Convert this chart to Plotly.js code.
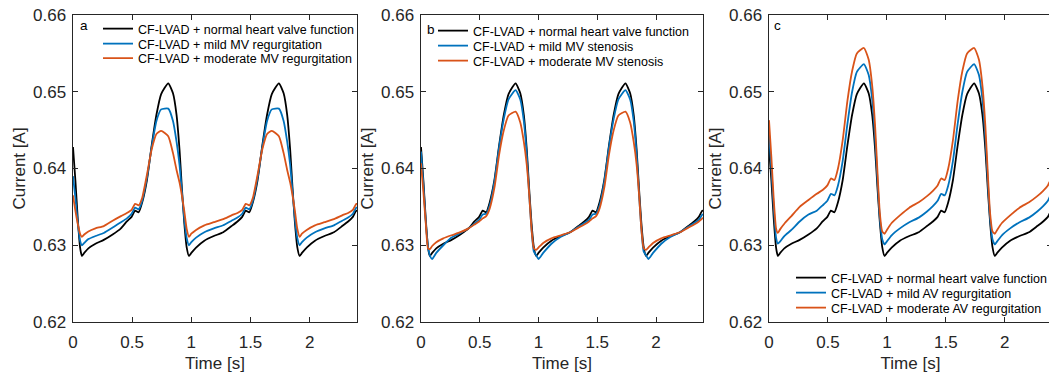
<!DOCTYPE html>
<html>
<head>
<meta charset="utf-8">
<script src="https://cdn.plot.ly/plotly-3.0.1.min.js"></script>
<style>
html, body { margin: 0; padding: 0; overflow: hidden; background: #fff; }
#chart { width: 1056px; height: 377px; }
</style>
</head>
<body>
<div id="chart"></div>
<script>
// ---------------- DATA ----------------
const time = [
  0, 0.02, 0.04, 0.06, 0.075, 0.095, 0.13, 0.19, 0.26, 0.335, 0.405, 0.455,
  0.495, 0.525, 0.555, 0.585, 0.625, 0.665, 0.705, 0.745, 0.805, 0.845, 0.875, 0.9, 0.92, 0.94, 0.96,
  0.98, 1.0, 1.04, 1.11, 1.19, 1.27, 1.34, 1.39, 1.43, 1.46, 1.49, 1.52, 1.56, 1.6, 1.64, 1.68, 1.74, 1.78, 1.81, 1.835, 1.855, 1.875, 1.895,
  1.915, 1.935, 1.975, 2.045, 2.125, 2.205, 2.275, 2.325, 2.365, 2.395, 2.425
];

// normal heart valve function (same in all panels)
const normalValve = [
  0.6428, 0.6385, 0.6335, 0.6297, 0.6286, 0.6290, 0.6296, 0.6302, 0.6307, 0.6314, 0.6322, 0.6331,
  0.6337, 0.6345, 0.6343, 0.6356, 0.6385, 0.6430, 0.6470, 0.6497, 0.6511, 0.6498, 0.6470, 0.6425, 0.6375, 0.6330, 0.6298,
  0.6286, 0.6290, 0.6297, 0.6306, 0.6312, 0.6317, 0.6325, 0.6331, 0.6337, 0.6345, 0.6343, 0.6356, 0.6385, 0.6430, 0.6470, 0.6497, 0.6511, 0.6498, 0.6470, 0.6425, 0.6375, 0.6330, 0.6298,
  0.6286, 0.6290, 0.6297, 0.6306, 0.6312, 0.6317, 0.6325, 0.6331, 0.6337, 0.6345, 0.6343
];

// panel a
const mildMVRegurg = [
  0.6390, 0.6362, 0.6330, 0.6306, 0.6300, 0.6303, 0.6308, 0.6312, 0.6316, 0.6323, 0.6330, 0.6335,
  0.6341, 0.6349, 0.6347, 0.6358, 0.6388, 0.6428, 0.6462, 0.6477, 0.6478, 0.6462, 0.6435, 0.6405, 0.6370, 0.6335, 0.6310,
  0.6300, 0.6304, 0.6310, 0.6317, 0.6322, 0.6326, 0.6332, 0.6336, 0.6341, 0.6349, 0.6347, 0.6358, 0.6388, 0.6428, 0.6462, 0.6477, 0.6478, 0.6462, 0.6435, 0.6405, 0.6370, 0.6335, 0.6310,
  0.6300, 0.6304, 0.6310, 0.6317, 0.6322, 0.6326, 0.6332, 0.6336, 0.6341, 0.6349, 0.6347
];
const moderateMVRegurg = [
  0.6365, 0.6345, 0.6328, 0.6315, 0.6311, 0.6314, 0.6318, 0.6322, 0.6325, 0.6332, 0.6338, 0.6342,
  0.6346, 0.6354, 0.6352, 0.6362, 0.6392, 0.6425, 0.6445, 0.6449, 0.6442, 0.6420, 0.6398, 0.6382, 0.6365, 0.6345, 0.6322,
  0.6311, 0.6315, 0.6320, 0.6326, 0.6330, 0.6334, 0.6339, 0.6342, 0.6346, 0.6354, 0.6352, 0.6362, 0.6392, 0.6425, 0.6445, 0.6449, 0.6442, 0.6420, 0.6398, 0.6382, 0.6365, 0.6345, 0.6322,
  0.6311, 0.6315, 0.6320, 0.6326, 0.6330, 0.6334, 0.6339, 0.6342, 0.6346, 0.6354, 0.6352
];

// panel b
const mildMVSten = [
  0.6422, 0.6380, 0.6332, 0.6298, 0.6287, 0.6282, 0.6290, 0.6300, 0.6310, 0.6316, 0.6322, 0.6328,
  0.6333, 0.6340, 0.6341, 0.6352, 0.6383, 0.6428, 0.6465, 0.6490, 0.6502, 0.6490, 0.6462, 0.6418, 0.6368, 0.6322, 0.6292,
  0.6287, 0.6282, 0.6290, 0.6302, 0.6311, 0.6317, 0.6324, 0.6329, 0.6333, 0.6340, 0.6341, 0.6352, 0.6383, 0.6428, 0.6465, 0.6490, 0.6502, 0.6490, 0.6462, 0.6418, 0.6368, 0.6322, 0.6292,
  0.6287, 0.6282, 0.6290, 0.6302, 0.6311, 0.6317, 0.6324, 0.6329, 0.6333, 0.6340, 0.6341
];
const moderateMVSten = [
  0.6407, 0.6370, 0.6330, 0.6296, 0.6295, 0.6299, 0.6304, 0.6309, 0.6313, 0.6317, 0.6322, 0.6327,
  0.6331, 0.6335, 0.6338, 0.6348, 0.6375, 0.6418, 0.6450, 0.6469, 0.6474, 0.6460, 0.6435, 0.6405, 0.6368, 0.6322, 0.6296,
  0.6294, 0.6297, 0.6303, 0.6309, 0.6313, 0.6317, 0.6323, 0.6327, 0.6331, 0.6335, 0.6338, 0.6348, 0.6375, 0.6418, 0.6450, 0.6469, 0.6474, 0.6460, 0.6435, 0.6405, 0.6368, 0.6322, 0.6296,
  0.6294, 0.6297, 0.6303, 0.6309, 0.6313, 0.6317, 0.6323, 0.6327, 0.6331, 0.6335, 0.6338
];

// panel c
const mildAVRegurg = [
  0.6446, 0.6400, 0.6350, 0.6310, 0.6302, 0.6305, 0.6312, 0.6320, 0.6331, 0.6340, 0.6345, 0.6352,
  0.6358, 0.6367, 0.6365, 0.6378, 0.6410, 0.6458, 0.6500, 0.6526, 0.6536, 0.6522, 0.6490, 0.6440, 0.6385, 0.6335, 0.6308,
  0.6301, 0.6305, 0.6313, 0.6322, 0.6330, 0.6336, 0.6344, 0.6351, 0.6358, 0.6367, 0.6365, 0.6378, 0.6410, 0.6458, 0.6500, 0.6526, 0.6536, 0.6522, 0.6490, 0.6440, 0.6385, 0.6335, 0.6308,
  0.6301, 0.6305, 0.6313, 0.6322, 0.6330, 0.6336, 0.6344, 0.6351, 0.6358, 0.6367, 0.6365
];
const moderateAVRegurg = [
  0.6463, 0.6415, 0.6360, 0.6322, 0.6316, 0.6321, 0.6328, 0.6338, 0.6350, 0.6359, 0.6367, 0.6372,
  0.6378, 0.6387, 0.6385, 0.6400, 0.6437, 0.6488, 0.6527, 0.6550, 0.6557, 0.6542, 0.6508, 0.6455, 0.6395, 0.6342, 0.6318,
  0.6315, 0.6320, 0.6329, 0.6339, 0.6349, 0.6356, 0.6364, 0.6371, 0.6378, 0.6387, 0.6385, 0.6400, 0.6437, 0.6488, 0.6527, 0.6550, 0.6557, 0.6542, 0.6508, 0.6455, 0.6395, 0.6342, 0.6318,
  0.6315, 0.6320, 0.6329, 0.6339, 0.6349, 0.6356, 0.6364, 0.6371, 0.6378, 0.6387, 0.6385
];

const legendNames = {
  a: ["CF-LVAD + normal heart valve function", "CF-LVAD + mild MV regurgitation", "CF-LVAD + moderate MV regurgitation"],
  b: ["CF-LVAD + normal heart valve function", "CF-LVAD + mild MV stenosis", "CF-LVAD + moderate MV stenosis"],
  c: ["CF-LVAD + normal heart valve function", "CF-LVAD + mild AV regurgitation", "CF-LVAD + moderate AV regurgitation"]
};
const panelLabels = ["a", "b", "c"];
const xTicks = [0, 0.5, 1, 1.5, 2];
const xTickText = ["0", "0.5", "1", "1.5", "2"];
const yTicks = [0.62, 0.63, 0.64, 0.65, 0.66];
const yTickText = ["0.62", "0.63", "0.64", "0.65", "0.66"];

// ---------------- LAYOUT ----------------
const W = 1056, H = 377, TOP = 15, BOT = 322;
const FONT = "Liberation Sans, Arial, Helvetica, sans-serif";
const colors = ["#000000", "#0072BD", "#D95319"];
const fx = px => px / W;
const fy = py => (BOT - py) / (BOT - TOP);

const panels = [
  { left: 73, right: 357, series: [normalValve, mildMVRegurg, moderateMVRegurg], names: legendNames.a,
    legX: 98, legY: [29, 44, 58.5], label: [84, 25] },
  { left: 421, right: 703, series: [normalValve, mildMVSten, moderateMVSten], names: legendNames.b,
    legX: 433, legY: [31, 46, 61], label: [431, 29] },
  { left: 769, right: 1052, series: [normalValve, mildAVRegurg, moderateAVRegurg], names: legendNames.c,
    legX: 791, legY: [278, 293, 308], label: [777, 25] }
];

const traces = [];
const layout = {
  width: W, height: H, showlegend: true,
  margin: { l: 0, r: 0, t: TOP, b: H - BOT, pad: 0 },
  paper_bgcolor: "#ffffff", plot_bgcolor: "#ffffff",
  font: { family: FONT, color: "#262626" },
  annotations: []
};

let legIdx = 0;
panels.forEach((p, i) => {
  const n = i === 0 ? "" : String(i + 1);
  const axCommon = {
    showline: true, linecolor: "#262626", linewidth: 1.4, mirror: "ticks",
    ticks: "inside", ticklen: 5, tickwidth: 1, tickcolor: "#262626",
    showgrid: false, zeroline: false,
    tickfont: { family: FONT, size: 17, color: "#262626" }
  };
  layout["xaxis" + n] = Object.assign({}, axCommon, {
    domain: [fx(p.left), fx(p.right)], range: [0, 2.4], anchor: "y" + n,
    tickvals: xTicks, ticktext: xTickText, ticklabelstandoff: 4,
    title: { text: "Time [s]", font: { family: FONT, size: 17, color: "#262626" }, standoff: 6 }
  });
  layout["yaxis" + n] = Object.assign({}, axCommon, {
    domain: [0, 1], range: [0.62, 0.66], anchor: "x" + n,
    tickvals: yTicks, ticktext: yTickText, ticklabelstandoff: 2,
    title: { text: "Current [A]", font: { family: FONT, size: 17, color: "#262626" }, standoff: 3 }
  });
  p.series.forEach((s, k) => {
    legIdx += 1;
    const legName = legIdx === 1 ? "legend" : "legend" + legIdx;
    traces.push({
      type: "scatter", mode: "lines", x: time, y: s, name: p.names[k],
      xaxis: "x" + n, yaxis: "y" + n, legend: legName, showlegend: true,
      line: { color: colors[k], width: 1.8, shape: "spline", smoothing: 0.5 }
    });
    layout[legName] = {
      x: fx(p.legX), xanchor: "left", y: fy(p.legY[k]), yanchor: "middle",
      bgcolor: "rgba(0,0,0,0)", borderwidth: 0, visible: true,
      font: { family: FONT, size: 12.5, color: "#000000" }
    };
  });
  layout.annotations.push({
    text: panelLabels[i], xref: "paper", yref: "paper",
    x: fx(p.label[0]), y: fy(p.label[1]), xanchor: "center", yanchor: "middle",
    showarrow: false, font: { family: FONT, size: 13.5, color: "#000000" }
  });
});

Plotly.newPlot("chart", traces, layout, { displayModeBar: false, staticPlot: true });
</script>
</body>
</html>
